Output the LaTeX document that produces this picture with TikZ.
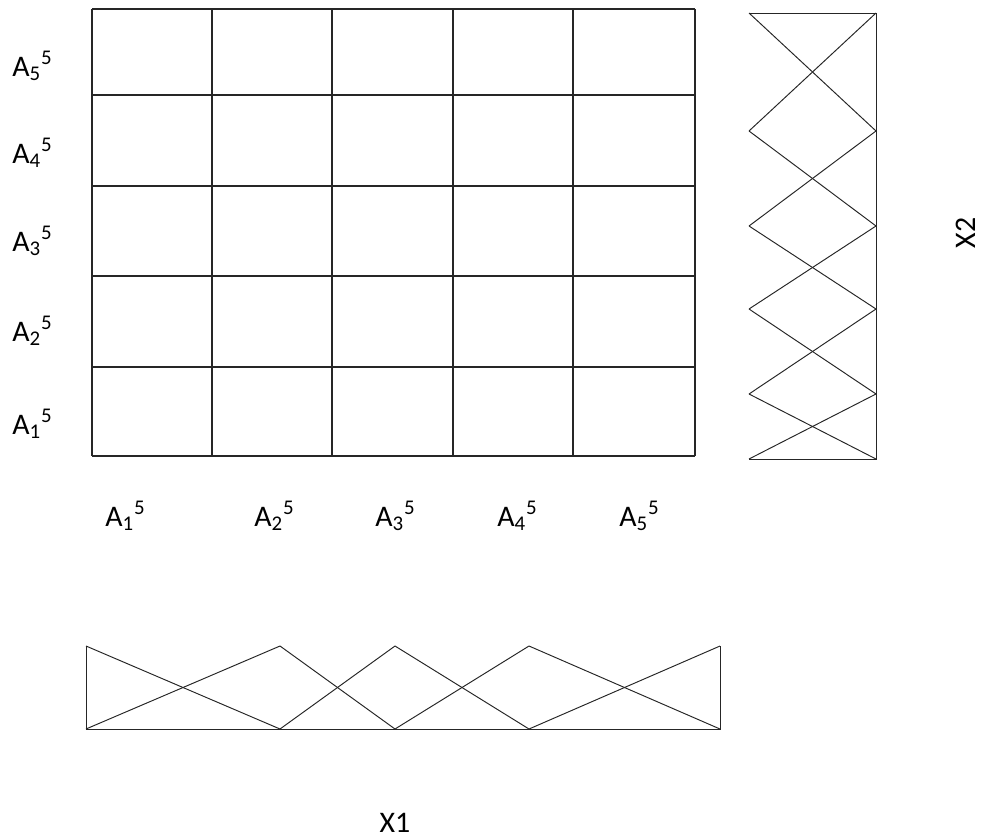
\documentclass[tikz,border=0pt]{standalone}
\usepackage{fontspec}
\setmainfont{Carlito}
\usetikzlibrary{positioning, calc}

\begin{document}
\begin{tikzpicture}[
    x=0.02cm, y=-0.02cm,
    % grid of rule cells
    gridline/.style={line width=0.65pt, black!85},
    % triangular membership functions
    mfline/.style={line width=0.55pt, black!85},
    setlabel/.style={font=\fontsize{17}{20}\selectfont, inner sep=0pt, anchor=base west},
    axislabel/.style={font=\fontsize{17}{20}\selectfont, inner sep=0pt}
]
\useasboundingbox (0,0) rectangle (982,838);

%-------- RULE GRID --------
\foreach \x in {92,212,332,453,573,695}
    \draw[gridline] (\x,9) -- (\x,456);
\foreach \y in {9,95,186,276,367,456}
    \draw[gridline] (92,\y) -- (695,\y);

%-------- SET LABELS --------
\foreach \i/\y in {5/76,4/163,3/251,2/341,1/434}
    \node[setlabel] (row\i) at (12,\y) {A\textsubscript{\i}\textsuperscript{5}};
\foreach \i/\x in {1/105,2/254,3/375,4/497,5/619}
    \node[setlabel] (col\i) at (\x,526) {A\textsubscript{\i}\textsuperscript{5}};

%-------- X2 MEMBERSHIP FUNCTIONS --------
\draw[mfline] (749,13) -- (876,13) -- (876,459) -- (749,459);
\foreach \a/\b in {13/131,131/226,226/309,309/394,394/459} {
    \draw[mfline] (749,\a) -- (876,\b);
    \draw[mfline] (876,\a) -- (749,\b);
}

%-------- X1 MEMBERSHIP FUNCTIONS --------
\draw[mfline] (86,646) -- (86,729) -- (720,729) -- (720,646);
\foreach \a/\b in {86/280,280/395,395/529,529/720} {
    \draw[mfline] (\a,646) -- (\b,729);
    \draw[mfline] (\a,729) -- (\b,646);
}

%-------- AXIS NAMES --------
\node[axislabel, rotate=90] (x2) at (966,233) {X2};
\node[axislabel] (x1) at (395,823) {X1};

\end{tikzpicture}
\end{document}
